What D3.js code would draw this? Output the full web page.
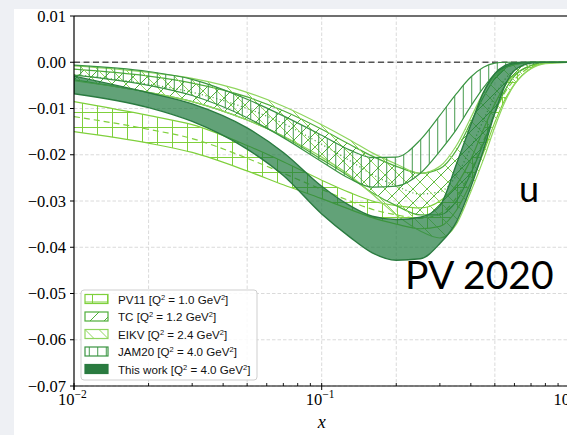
<!DOCTYPE html>
<html>
<head>
<meta charset="utf-8" />
<script src="https://cdn.jsdelivr.net/npm/d3@7"></script>
<style>
    body { margin: 0; padding: 0; background: #eef0f4; }
    svg { display: block; }
</style>
</head>
<body>
<div id="chart"></div>
<script>
// x grid shared by all bands
var xs = [0.01, 0.02, 0.03, 0.05, 0.07, 0.1, 0.13, 0.16, 0.2, 0.25, 0.3, 0.35, 0.4, 0.45, 0.5, 0.55, 0.6, 0.7, 0.8, 1.0];

var pv11Upper = [-0.0085, -0.0115, -0.0135, -0.018, -0.0215, -0.0255, -0.0282, -0.0300, -0.0310, -0.0315, -0.0300, -0.0265, -0.0210, -0.0145, -0.0090, -0.0050, -0.0027, -0.0007, -0.0001, 0];
var pv11Lower = [-0.0150, -0.0175, -0.0195, -0.0235, -0.0265, -0.0295, -0.0318, -0.0336, -0.0350, -0.0360, -0.0355, -0.0320, -0.0260, -0.0195, -0.0130, -0.0080, -0.0048, -0.0013, -0.0002, 0];

var tcUpper = [-0.0015, -0.0030, -0.0045, -0.0075, -0.0105, -0.0145, -0.0178, -0.0203, -0.0225, -0.0240, -0.0230, -0.0190, -0.0130, -0.0075, -0.0035, -0.0013, -0.0005, 0, 0, 0];
var tcLower = [-0.0038, -0.0065, -0.0085, -0.0125, -0.0160, -0.0210, -0.0248, -0.0282, -0.0310, -0.0330, -0.0330, -0.0300, -0.0240, -0.0175, -0.0110, -0.0060, -0.0030, -0.0007, 0, 0];

var eikvUpper = [-0.0008, -0.0022, -0.0035, -0.0065, -0.0095, -0.0135, -0.0168, -0.0196, -0.0220, -0.0240, -0.0225, -0.0180, -0.0120, -0.0065, -0.0030, -0.0012, -0.0005, -0.0001, 0, 0];
var eikvLower = [-0.0040, -0.0065, -0.0085, -0.0125, -0.0160, -0.0205, -0.0245, -0.0285, -0.0330, -0.0365, -0.0380, -0.0350, -0.0280, -0.0210, -0.0140, -0.0085, -0.0048, -0.0014, -0.0003, 0];

var jamUpper = [-0.0006, -0.0020, -0.0037, -0.0080, -0.0116, -0.0158, -0.0190, -0.0206, -0.0205, -0.0168, -0.0115, -0.0068, -0.0032, -0.0011, -0.0002, 0, 0, 0, 0, 0];
var jamLower = [-0.0028, -0.0050, -0.0072, -0.0120, -0.0163, -0.0215, -0.0252, -0.0270, -0.0268, -0.0240, -0.0192, -0.0145, -0.0095, -0.0055, -0.0025, -0.0010, -0.0003, 0, 0, 0];

var workUpper = [-0.0030, -0.0066, -0.0090, -0.0142, -0.0195, -0.0268, -0.0310, -0.0333, -0.0340, -0.0335, -0.0310, -0.0220, -0.0135, -0.0065, -0.0025, -0.0007, -0.0001, 0, 0, 0];
var workLower = [-0.0068, -0.0098, -0.0128, -0.0188, -0.0245, -0.0328, -0.0378, -0.0412, -0.0428, -0.0425, -0.0392, -0.0345, -0.0270, -0.0190, -0.0110, -0.0050, -0.0018, -0.0002, 0, 0];

var bandNames = ['PV11', 'TC', 'EIKV', 'JAM20', 'This work'];
var bandQ2 = ['1.0', '1.2', '2.4', '4.0', '4.0'];
var yTicks = [0.01, 0.00, -0.01, -0.02, -0.03, -0.04, -0.05, -0.06, -0.07];
var xMajor = [0.01, 0.1, 1];
var xMajorExp = ['\u22122', '\u22121', '0'];
var xGrid = [0.02, 0.05, 0.1, 0.2, 0.5];

(function(d3) {
    'use strict';

    var width = 567, height = 435;
    var left = 74, top = 16, right = 569.4, bottom = 386;
    var serif = "'Liberation Serif', 'Times New Roman', 'DejaVu Serif', serif";
    var sans = "'Liberation Sans', Arial, sans-serif";

    var svg = d3.select('#chart').append('svg')
        .attr('width', width)
        .attr('height', height);

    svg.append('rect').attr('width', width).attr('height', height).attr('fill', '#eef0f4');
    svg.append('rect').attr('x', 14).attr('y', 9).attr('width', width - 14).attr('height', height - 9).attr('fill', '#fff');

    var x = d3.scaleLog().domain([0.01, 1]).range([left, right]);
    var y = d3.scaleLinear().domain([-0.07, 0.01]).range([bottom, top]);

    var defs = svg.append('defs');
    defs.append('clipPath').attr('id', 'plotclip')
        .append('rect').attr('x', left).attr('y', top).attr('width', right - left).attr('height', bottom - top);

    // hatch patterns like matplotlib
    function pattern(id, size, d, color) {
        var p = defs.append('pattern').attr('id', id)
            .attr('patternUnits', 'userSpaceOnUse')
            .attr('width', size).attr('height', size);
        p.append('path').attr('d', d).attr('stroke', color).attr('stroke-width', 1).attr('fill', 'none');
    }

    var colors = ['#7fd03c', '#4fae3a', '#8fd65e', '#3a9442', '#2a7b40'];
    pattern('h-pv11', 15, 'M0,7.5H15M7.5,0V15', colors[0]);
    pattern('h-tc', 14, 'M0,14L14,0M-3.5,3.5L3.5,-3.5M10.5,17.5L17.5,10.5', colors[1]);
    pattern('h-eikv', 14, 'M0,0L14,14M-3.5,10.5L3.5,17.5M10.5,-3.5L17.5,3.5', colors[2]);
    pattern('h-jam', 8.5, 'M4.25,0V8.5', colors[3]);

    // grid
    var grid = svg.append('g');
    grid.selectAll('.hg').data(yTicks).enter().append('line')
        .attr('x1', left).attr('x2', right)
        .attr('y1', function(d) { return y(d); }).attr('y2', function(d) { return y(d); })
        .attr('stroke', '#d6d6d6').attr('stroke-width', 0.9).attr('stroke-dasharray', '3.5,2');
    grid.selectAll('.vg').data(xGrid).enter().append('line')
        .attr('y1', top).attr('y2', bottom)
        .attr('x1', function(d) { return x(d); }).attr('x2', function(d) { return x(d); })
        .attr('stroke', '#d6d6d6').attr('stroke-width', 0.9).attr('stroke-dasharray', '3.5,2');

    var plot = svg.append('g').attr('clip-path', 'url(#plotclip)');

    plot.append('line')
        .attr('x1', left).attr('x2', right)
        .attr('y1', y(0)).attr('y2', y(0))
        .attr('stroke', '#555').attr('stroke-width', 1.5).attr('stroke-dasharray', '6,3.5');

    function rows(up, lo) {
        return xs.map(function(v, i) { return {x: v, u: up[i], l: lo[i]}; });
    }

    var area = d3.area().curve(d3.curveMonotoneX)
        .x(function(d) { return x(d.x); })
        .y0(function(d) { return y(d.l); })
        .y1(function(d) { return y(d.u); });
    var lineU = d3.line().curve(d3.curveMonotoneX)
        .x(function(d) { return x(d.x); }).y(function(d) { return y(d.u); });
    var lineL = d3.line().curve(d3.curveMonotoneX)
        .x(function(d) { return x(d.x); }).y(function(d) { return y(d.l); });
    var lineC = d3.line().curve(d3.curveMonotoneX)
        .x(function(d) { return x(d.x); }).y(function(d) { return y((d.u + d.l) / 2); });

    var bands = [
        {data: rows(pv11Upper, pv11Lower), fill: 'url(#h-pv11)', color: colors[0], center: '6,4'},
        {data: rows(tcUpper, tcLower), fill: 'url(#h-tc)', color: colors[1], center: '1.2,2.5'},
        {data: rows(eikvUpper, eikvLower), fill: 'url(#h-eikv)', color: colors[2], center: null},
        {data: rows(jamUpper, jamLower), fill: 'url(#h-jam)', color: colors[3], center: null}
    ];

    bands.forEach(function(b) {
        var g = plot.append('g');
        g.append('path').datum(b.data).attr('d', area).attr('fill', b.fill).attr('stroke', 'none');
        g.append('path').datum(b.data).attr('d', lineU).attr('fill', 'none').attr('stroke', b.color).attr('stroke-width', 1.2);
        g.append('path').datum(b.data).attr('d', lineL).attr('fill', 'none').attr('stroke', b.color).attr('stroke-width', 1.2);
        if (b.center) {
            g.append('path').datum(b.data).attr('d', lineC).attr('fill', 'none')
                .attr('stroke', b.color).attr('stroke-width', 1.2).attr('stroke-dasharray', b.center);
        }
    });

    var work = rows(workUpper, workLower);
    plot.append('path').datum(work).attr('d', area)
        .attr('fill', '#1f7a3f').attr('fill-opacity', 0.7)
        .attr('stroke', colors[4]).attr('stroke-width', 1.4);

    // spines
    svg.append('line').attr('x1', left).attr('x2', width).attr('y1', top).attr('y2', top)
        .attr('stroke', '#6f6f6f').attr('stroke-width', 2);
    svg.append('line').attr('x1', left).attr('x2', left).attr('y1', top).attr('y2', bottom + 4)
        .attr('stroke', '#000').attr('stroke-width', 1.2);
    svg.append('line').attr('x1', left).attr('x2', width).attr('y1', bottom).attr('y2', bottom)
        .attr('stroke', '#000').attr('stroke-width', 1.2);

    // y ticks
    svg.selectAll('.yt').data(yTicks).enter().append('line')
        .attr('x1', left - 4).attr('x2', left)
        .attr('y1', function(d) { return y(d); }).attr('y2', function(d) { return y(d); })
        .attr('stroke', '#000').attr('stroke-width', 1);
    svg.selectAll('.yl').data(yTicks).enter().append('text')
        .attr('font-family', serif).attr('font-size', 16.5)
        .attr('x', left - 8)
        .attr('y', function(d) { return y(d) + 5.5; })
        .attr('text-anchor', 'end')
        .text(function(d) { return d3.format('.2f')(d).replace('-', '\u2212'); });

    // x ticks
    var minor = [];
    [0.01, 0.1].forEach(function(dec) {
        for (var k = 2; k <= 9; k++) minor.push(dec * k);
    });
    svg.selectAll('.xm').data(minor).enter().append('line')
        .attr('x1', function(d) { return x(d); }).attr('x2', function(d) { return x(d); })
        .attr('y1', bottom - 3).attr('y2', bottom)
        .attr('stroke', '#000').attr('stroke-width', 0.9);
    svg.selectAll('.xM').data(xMajor).enter().append('line')
        .attr('x1', function(d) { return x(d); }).attr('x2', function(d) { return x(d); })
        .attr('y1', bottom - 3).attr('y2', bottom + 4)
        .attr('stroke', '#000').attr('stroke-width', 1);
    var xl = svg.selectAll('.xl').data(xMajor).enter().append('text')
        .attr('font-family', serif).attr('font-size', 16.5)
        .attr('x', function(d) { return x(d) - 16; })
        .attr('y', 405);
    xl.append('tspan').text('10');
    xl.append('tspan').attr('dy', -7).attr('font-size', 11.5).text(function(d, i) { return xMajorExp[i]; });

    svg.append('text')
        .attr('font-family', serif).attr('font-size', 18).attr('font-style', 'italic')
        .attr('x', x(0.1)).attr('y', 428)
        .attr('text-anchor', 'middle')
        .text('x');

    // legend
    var lg = svg.append('g');
    lg.append('rect').attr('x', 81).attr('y', 290).attr('width', 176).attr('height', 90)
        .attr('rx', 3).attr('fill', '#fff').attr('fill-opacity', 0.85)
        .attr('stroke', '#cfcfcf').attr('stroke-width', 1);
    var fills = ['url(#h-pv11)', 'url(#h-tc)', 'url(#h-eikv)', 'url(#h-jam)', colors[4]];
    var item = lg.selectAll('.item').data(bandNames).enter().append('g')
        .attr('transform', function(d, i) { return 'translate(85,' + (294.5 + i * 17.5) + ')'; });
    item.append('rect').attr('width', 23).attr('height', 9)
        .attr('fill', function(d, i) { return fills[i]; })
        .attr('stroke', function(d, i) { return colors[i]; })
        .attr('stroke-width', 1.2);
    var t = item.append('text')
        .attr('font-family', sans).attr('font-size', 11.6).attr('fill', '#111')
        .attr('x', 33).attr('y', 9);
    t.append('tspan').text(function(d) { return d + ' [Q'; });
    t.append('tspan').attr('dy', -4).attr('font-size', 7.5).text('2');
    t.append('tspan').attr('dy', 4).text(function(d, i) { return ' = ' + bandQ2[i] + ' GeV'; });
    t.append('tspan').attr('dy', -4).attr('font-size', 7.5).text('2');
    t.append('tspan').attr('dy', 4).text(']');

    // labels
    svg.append('text').attr('font-family', 'Lato, sans-serif')
        .attr('font-size', 36).attr('x', 519).attr('y', 202).text('u');
    svg.append('text').attr('font-family', 'Lato, sans-serif')
        .attr('font-size', 39).attr('x', 405).attr('y', 289).text('PV 2020');

})(window.d3);
</script>
</body>
</html>
